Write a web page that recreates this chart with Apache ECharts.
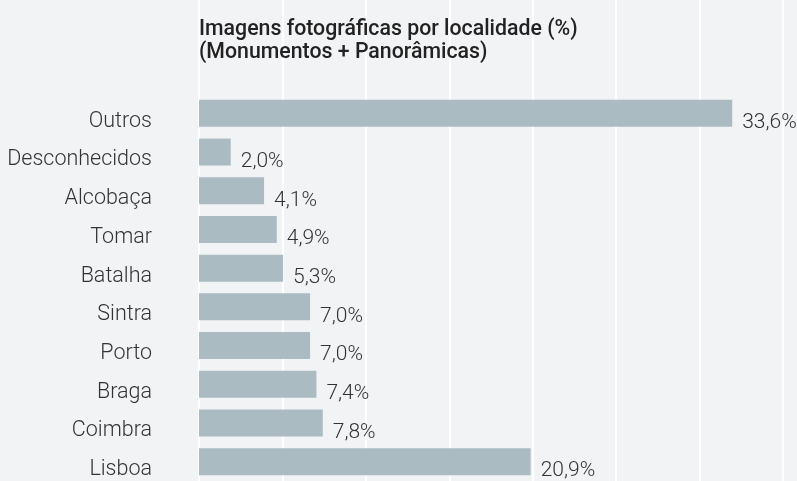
<!DOCTYPE html>
<html>
<head>
<meta charset="utf-8">
<script src="https://cdn.jsdelivr.net/npm/echarts@6/dist/echarts.min.js"></script>
<style>
  html, body { margin: 0; padding: 0; background: #f2f3f5; }
  #chart { width: 797px; height: 481px; }
</style>
</head>
<body>
<div id="chart"></div>
<script>
const categories = ['Outros', 'Desconhecidos', 'Alcobaça', 'Tomar', 'Batalha', 'Sintra', 'Porto', 'Braga', 'Coimbra', 'Lisboa'];
const values = [33.6, 2.0, 4.1, 4.9, 5.3, 7.0, 7.0, 7.4, 7.8, 20.9];
const titleLines = ['Imagens fotográficas por localidade (%)', '(Monumentos + Panorâmicas)'];

const chart = echarts.init(document.getElementById('chart'));
const FONT = 'Roboto, "Noto Sans", sans-serif';

chart.setOption({
  backgroundColor: '#f2f3f5',
  animation: false,
  title: {
    text: titleLines.join('\n'),
    left: 199,
    top: 18,
    padding: 0,
    textStyle: {
      fontFamily: FONT,
      fontSize: 21.3,
      fontWeight: 500,
      color: '#222222',
      lineHeight: 23
    }
  },
  grid: [
    { left: 199, right: 14, top: 0, bottom: 0 },
    { left: 199, right: 14, top: 94, bottom: -6 }
  ],
  xAxis: [
    {
      gridIndex: 0, type: 'value', min: 0, max: 7, interval: 1,
      axisLine: { show: false }, axisTick: { show: false }, axisLabel: { show: false },
      splitLine: { show: true, lineStyle: { color: '#ffffff', width: 2 } }
    },
    {
      gridIndex: 1, type: 'value', min: 0, max: 36.8,
      axisLine: { show: false }, axisTick: { show: false }, axisLabel: { show: false },
      splitLine: { show: false }
    }
  ],
  yAxis: [
    { gridIndex: 0, type: 'value', show: false, min: 0, max: 1 },
    {
      gridIndex: 1, type: 'category', data: categories, inverse: true,
      axisLine: { show: false }, axisTick: { show: false },
      axisLabel: {
        margin: 47,
        fontFamily: FONT, fontSize: 21.5, fontWeight: 300, color: '#333333',
        verticalAlign: 'top',
        lineHeight: 16
      }
    }
  ],
  series: [{
    type: 'bar',
    xAxisIndex: 1,
    yAxisIndex: 1,
    data: values,
    barWidth: 27,
    itemStyle: { color: '#aabcc2' },
    label: {
      show: true,
      position: 'right',
      distance: 10,
      offset: [0, 9.5],
      fontFamily: FONT, fontSize: 21, fontWeight: 300, color: '#333333',
      formatter: p => p.value.toFixed(1).replace('.', ',') + '%'
    }
  }]
});
</script>
</body>
</html>
